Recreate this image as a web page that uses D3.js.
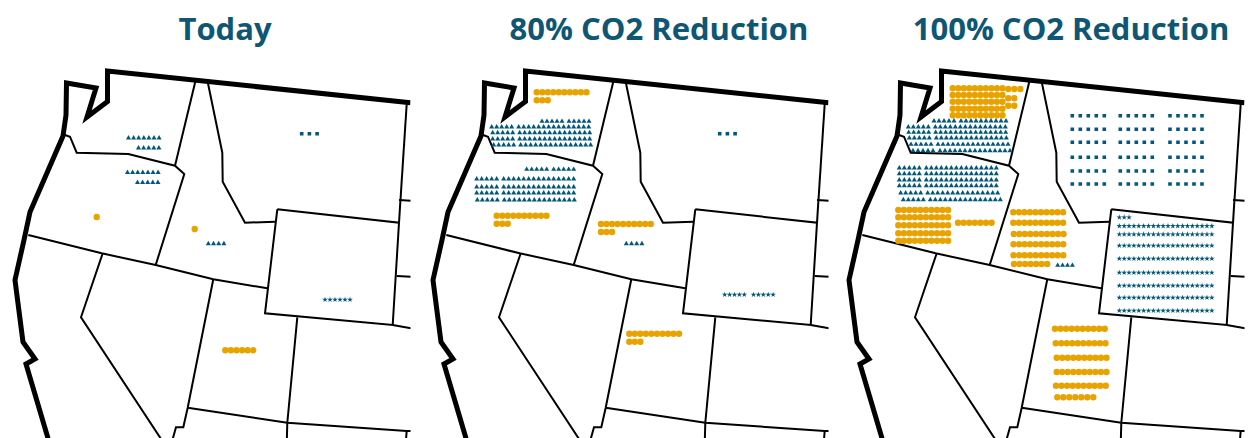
<!DOCTYPE html>
<html>
<head>
<meta charset="utf-8">
<script src="https://cdn.jsdelivr.net/npm/d3@7"></script>
<style>
    html, body { margin: 0; padding: 0; background: #fff; overflow: hidden; }
    svg { display: block; }
    text { font-family: "Open Sans", sans-serif; font-weight: 700; }
</style>
</head>
<body>
<div id="my_dataviz"></div>
<script>
// panel titles
var scenarios = ["Today", "80% CO2 Reduction", "100% CO2 Reduction"];

// number of plants per state, one value per scenario
var waCircles   = [0, 13, 57];
var orCircles   = [1, 13, 57];
var idCircles   = [1, 13, 57];
var utCircles   = [6, 13, 57];
var waTriangles = [12, 90, 115];
var orTriangles = [12, 90, 120];
var idTriangles = [4, 4, 4];
var mtSquares   = [3, 3, 90];
var wyStars     = [6, 10, 163];

// size of the page and the part of the map each panel shows
var width = 1249, height = 438;
var mapWidth = 410.5;
var panelOffsets = [0, 418, 834];
var titleCenters = [225, 659, 1071];

var navy = "#02587a", orange = "#e9a300", titleColor = "#0e5674";

// map outline, in map units
var coast = [[410.5,102.8],[107.5,71],[107.5,101.5],[87,117],[96,88],[66.5,83],[66,115],[63,136],
    [30,212],[24,240],[15,280],[23,342],[35,359],[26,364],[50,445]];

var borders = [
    [[65,135],[70,136.7],[76.7,152.7],[128.3,154],[175,165.7],[184.3,174],[155.7,265]],  // WA/OR, OR/ID
    [[195.7,80],[175,165.7]],                                                             // WA/ID
    [[207.3,80],[222.3,152.7],[222.7,181.7],[245,222.7],[275,221.7]],                     // ID/MT
    [[277.3,209.3],[399,222.7],[392.7,325],[265,313.3],[277.3,209.3]],                    // WY
    [[406.7,104],[399,222.7]],                                                            // MT/ND
    [[399,200],[411,200.7]],
    [[396.7,276],[411,276.7]],
    [[392.7,325],[411,328.3]],
    [[297.3,317.3],[287.3,422.7],[286.7,445]],                                            // UT/CO
    [[28.3,235],[101.7,253.3],[155.7,265],[213.3,279.3],[267.3,288.3]],                   // OR/CA, ID/UT
    [[102.7,253.3],[81,317.3],[165,445]],                                                 // CA/NV
    [[213.3,279.3],[187.7,407.7],[183.3,427.3],[176,427.3],[171,445]],                    // NV/UT
    [[187.7,407.7],[287.3,422.7],[406.7,431],[411,431]],                                  // UT/AZ
    [[406.7,431],[405.5,445]]
];

// where the rows of each block sit on the map: x of first mark, y, row length, spacing, extra gap after 5
function rows(xs, ys, ns, step, gap) {
    return ys.map(function(y, i) {
        return {x: Array.isArray(xs) ? xs[i] : xs, y: y, n: Array.isArray(ns) ? ns[i] : ns, step: step, gap: gap || 0};
    });
}

function squareRows(xs, ys) {
    var out = [];
    ys.forEach(function(y) {
        xs.forEach(function(x) { out = out.concat(rows(x, [y], 5, 8)); });
    });
    return out;
}

var layouts = {
    waCircles: [
        [],
        rows(118.7, [92.3, 100.3], [10, 3], 5.53),
        rows(118.7, [88.3, 95, 101.7, 108.7, 115.3], 10, 5.53).concat(rows(174.3, [89, 98.3, 105.7], [3, 2, 2], 6))
    ],
    orCircles: [
        rows(96.7, [217], 1, 0),
        rows(78.7, [215.7, 223.7], [10, 3], 5.53),
        rows(64.3, [210, 217.3, 225.3, 233.3, 240.7], 10, 5.53).concat(rows(124, [222.7], 7, 5.6))
    ],
    idCircles: [
        rows(194.7, [229], 1, 0),
        rows(183, [224, 232], [10, 3], 5.53),
        rows([179.3, 179.3, 179.8, 179.5, 179.5, 180], [212.3, 222.7, 234, 244.3, 255.3, 264], [10, 10, 10, 10, 10, 7], 5.53)
    ],
    utCircles: [
        rows(225.3, [350.3], 6, 5.6),
        rows(211.3, [333.7, 341.7], [10, 3], 5.53),
        rows([221, 221.7, 222.7, 222.7, 222], [328.7, 343.3, 357.7, 372, 385.7], 10, 5.53).concat(rows(223.3, [397.3], 7, 6))
    ],
    waTriangles: [
        rows([128.5, 138.5], [138, 148], [7, 5], 5.1),
        rows([124, 73.7, 74.7, 74.7, 75.7], [121.3, 127, 132.7, 139, 145], [10, 20, 20, 20, 20], 5, 2),
        rows([100, 74.3, 74.7, 75.3, 77, 79], [121, 127, 132.3, 138, 144.3, 150.7], [15, 20, 20, 20, 20, 20], 5, 2)
    ],
    orTriangles: [
        rows([127.5, 137.5], [172.5, 182.5], [7, 5], 5.1),
        rows([108.7, 58.7, 58.7, 58.7, 59.3], [169.3, 179, 187, 193, 200], [10, 20, 20, 20, 20], 5, 2),
        rows([65.3, 65.3, 65.3, 65.3, 66.7, 69.3], [168, 173.7, 180, 185.7, 193, 199.7], 20, 5, 2)
    ],
    idTriangles: [
        rows(208.3, [243.7], 4, 5.2),
        rows(208.3, [243.7], 4, 5.2),
        rows(223.7, [265.3], 4, 4.9)
    ],
    mtSquares: [
        rows(301.7, [133.7], 3, 7.7),
        rows(301.7, [133.7], 3, 7.7),
        squareRows([238.3, 286.3, 336], [115.7, 129.3, 142.3, 157.3, 171, 184])
    ],
    wyStars: [
        rows(325, [299.7], 6, 5),
        rows(306.7, [294.7], 10, 4.9, 4.3),
        rows(285.3, [217.3, 226, 234.3, 245.7, 258.7, 272.7, 285.7, 297.7, 310.7], [3, 20, 20, 20, 20, 20, 20, 20, 20], 4.87)
    ]
};

var symbols = [
    {counts: waCircles,   layout: layouts.waCircles,   type: d3.symbolCircle,   size: 32, color: orange},
    {counts: orCircles,   layout: layouts.orCircles,   type: d3.symbolCircle,   size: 32, color: orange},
    {counts: idCircles,   layout: layouts.idCircles,   type: d3.symbolCircle,   size: 32, color: orange},
    {counts: utCircles,   layout: layouts.utCircles,   type: d3.symbolCircle,   size: 32, color: orange},
    {counts: waTriangles, layout: layouts.waTriangles, type: d3.symbolTriangle, size: 11, color: navy},
    {counts: orTriangles, layout: layouts.orTriangles, type: d3.symbolTriangle, size: 11, color: navy},
    {counts: idTriangles, layout: layouts.idTriangles, type: d3.symbolTriangle, size: 11, color: navy},
    {counts: mtSquares,   layout: layouts.mtSquares,   type: d3.symbolSquare,   size: 13, color: navy},
    {counts: wyStars,     layout: layouts.wyStars,     type: d3.symbolStar,     size: 10, color: navy}
];

var svg = d3.select("#my_dataviz")
    .append("svg")
    .attr("width", width)
    .attr("height", height);

// the same map scale for every panel, only moved sideways
var y = d3.scaleLinear().domain([0, height]).range([0, height]);

scenarios.forEach(function(title, p) {
    var x = d3.scaleLinear()
        .domain([0, mapWidth])
        .range([panelOffsets[p], panelOffsets[p] + mapWidth]);

    var line = d3.line()
        .x(function(d) { return x(d[0]); })
        .y(function(d) { return y(d[1]); });

    svg.append("clipPath")
        .attr("id", "clip-" + p)
        .append("rect")
        .attr("x", x(0))
        .attr("y", 0)
        .attr("width", mapWidth)
        .attr("height", height);

    var g = svg.append("g").attr("clip-path", "url(#clip-" + p + ")");

    // state borders first, coast on top
    g.selectAll("path.border")
        .data(borders)
        .enter().append("path")
        .attr("class", "border")
        .attr("d", line)
        .attr("fill", "none")
        .attr("stroke", "#000")
        .attr("stroke-width", 2)
        .attr("stroke-linejoin", "miter");

    g.append("path")
        .attr("d", line(coast))
        .attr("fill", "none")
        .attr("stroke", "#000")
        .attr("stroke-width", 5)
        .attr("stroke-linejoin", "miter");

    // marks: take as many row slots as the state has plants
    symbols.forEach(function(s) {
        var remaining = s.counts[p];
        var points = [];
        s.layout[p].forEach(function(r) {
            for (var i = 0; i < r.n && remaining > 0; i++) {
                points.push([r.x + i * r.step + (i >= 5 ? r.gap : 0), r.y]);
                remaining--;
            }
        });
        g.append("g")
            .selectAll("path")
            .data(points)
            .enter().append("path")
            .attr("transform", function(d) { return "translate(" + x(d[0]) + "," + y(d[1]) + ")"; })
            .attr("d", d3.symbol().type(s.type).size(s.size))
            .attr("fill", s.color);
    });

    svg.append("text")
        .attr("x", titleCenters[p])
        .attr("y", 40)
        .attr("text-anchor", "middle")
        .attr("font-size", 31)
        .attr("fill", titleColor)
        .text(title);
});
</script>
</body>
</html>
